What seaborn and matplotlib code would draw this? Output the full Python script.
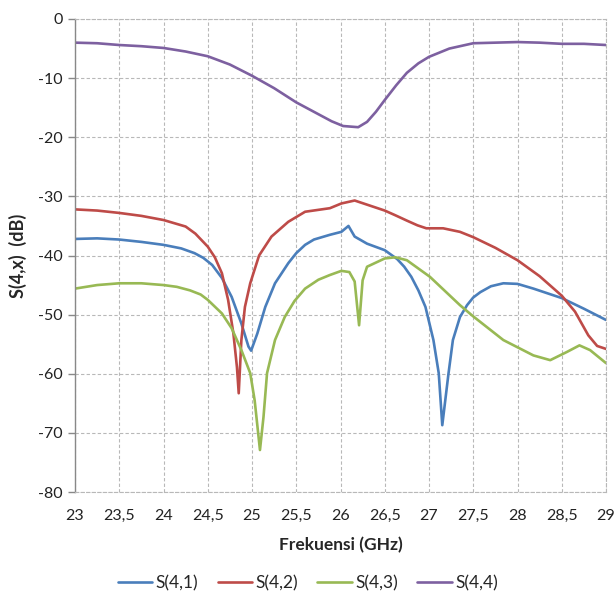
import matplotlib
matplotlib.use("Agg")
import matplotlib.pyplot as plt
import seaborn as sns
import pandas as pd

# S-parameter measurements, port 4 (frequency in GHz, magnitude in dB)
freq_s41 = [23, 23.25, 23.5, 23.75, 24, 24.2, 24.35, 24.45, 24.55, 24.66, 24.77, 24.88, 24.96,
            24.99, 25.06, 25.15, 25.26, 25.41, 25.5, 25.6, 25.7, 25.88, 26.01, 26.09, 26.16,
            26.3, 26.5, 26.64, 26.72, 26.8, 26.88, 26.96, 27.05, 27.11, 27.15, 27.22, 27.27,
            27.35, 27.43, 27.5, 27.58, 27.7, 27.84, 28.0, 28.18, 28.5, 28.75, 29]
s41 = [-37.2, -37.1, -37.3, -37.7, -38.2, -38.8, -39.6, -40.4, -41.6, -43.8, -47.0, -51.5, -55.4,
       -56.1, -53.2, -48.7, -44.7, -41.3, -39.6, -38.2, -37.3, -36.5, -36.0, -35.0, -36.8,
       -38.0, -39.1, -40.6, -41.9, -43.6, -45.9, -48.7, -54.3, -59.9, -68.7, -60.0, -54.3,
       -50.4, -48.4, -47.1, -46.2, -45.2, -44.7, -44.8, -45.6, -47.2, -49.0, -50.9]

freq_s42 = [23, 23.25, 23.5, 23.75, 24, 24.25, 24.36, 24.5, 24.58, 24.66, 24.73, 24.79, 24.83,
            24.85, 24.88, 24.92, 24.98, 25.08, 25.22, 25.41, 25.6, 25.88, 26.01, 26.16, 26.3,
            26.5, 26.62, 26.75, 26.87, 26.97, 27.16, 27.35, 27.5, 27.75, 28.0, 28.25, 28.5,
            28.65, 28.8, 28.9, 29]
s42 = [-32.2, -32.4, -32.8, -33.3, -34.0, -35.1, -36.3, -38.5, -40.3, -43.0, -47.5, -53.2, -58.9,
       -63.3, -54.3, -48.7, -44.7, -40.0, -36.8, -34.3, -32.6, -32.0, -31.2, -30.7, -31.4,
       -32.4, -33.2, -34.1, -34.9, -35.4, -35.4, -36.0, -36.9, -38.7, -40.8, -43.5, -46.8,
       -49.5, -53.5, -55.3, -55.8]

freq_s43 = [23, 23.25, 23.5, 23.75, 24, 24.15, 24.3, 24.42, 24.5, 24.66, 24.77, 24.88, 24.98,
            25.03, 25.09, 25.13, 25.17, 25.26, 25.37, 25.48, 25.6, 25.75, 25.88, 26.01, 26.1,
            26.16, 26.21, 26.25, 26.3, 26.5, 26.62, 26.75, 27.01, 27.35, 27.5, 27.84, 28.18,
            28.37, 28.56, 28.7, 28.82, 29]
s43 = [-45.6, -45.0, -44.7, -44.7, -45.0, -45.3, -45.9, -46.6, -47.5, -49.8, -52.3, -56.0, -59.9,
       -64.5, -72.9, -67.3, -59.9, -54.3, -50.4, -47.7, -45.6, -44.1, -43.3, -42.6, -42.8,
       -44.4, -51.8, -44.2, -41.9, -40.5, -40.3, -40.8, -43.6, -48.4, -50.3, -54.3, -56.9,
       -57.7, -56.3, -55.2, -56.0, -58.2]

freq_s44 = [23, 23.25, 23.5, 23.75, 24, 24.25, 24.5, 24.75, 25, 25.25, 25.5, 25.75, 25.9, 26.03,
            26.2, 26.3, 26.4, 26.5, 26.63, 26.75, 26.88, 27.0, 27.23, 27.5, 27.75, 28, 28.25,
            28.5, 28.75, 29]
s44 = [-4.0, -4.1, -4.4, -4.6, -4.9, -5.5, -6.3, -7.7, -9.6, -11.7, -14.1, -16.1, -17.3, -18.1,
       -18.3, -17.4, -15.7, -13.7, -11.2, -9.1, -7.5, -6.4, -5.0, -4.1, -4.0, -3.9, -4.0,
       -4.2, -4.2, -4.4]

series_names = ["S(4,1)", "S(4,2)", "S(4,3)", "S(4,4)"]
series_colors = ["#4A7EBB", "#BE4B48", "#98B954", "#7D60A0"]
x_ticks = [23, 23.5, 24, 24.5, 25, 25.5, 26, 26.5, 27, 27.5, 28, 28.5, 29]
x_tick_labels = ["23", "23,5", "24", "24,5", "25", "25,5", "26", "26,5", "27", "27,5", "28", "28,5", "29"]
y_ticks = [0, -10, -20, -30, -40, -50, -60, -70, -80]

frames = []
for name, fx, fy in zip(series_names,
                        [freq_s41, freq_s42, freq_s43, freq_s44],
                        [s41, s42, s43, s44]):
    frames.append(pd.DataFrame({"freq": fx, "db": fy, "series": name}))
df = pd.concat(frames, ignore_index=True)

sns.set_theme(style="white")
plt.rcParams["font.family"] = ["Lato", "DejaVu Sans"]
plt.rcParams["axes.unicode_minus"] = False

fig = plt.figure(figsize=(6.16, 6.01), dpi=100)
ax = fig.add_axes([75 / 616, 1 - 492 / 601, (606 - 75) / 616, (492 - 19) / 601])

sns.lineplot(data=df, x="freq", y="db", hue="series", hue_order=series_names,
             palette=series_colors, estimator=None, sort=False, linewidth=1.9, ax=ax,
             legend=True)

ax.set_xlim(23, 29)
ax.set_ylim(-80, 0)
ax.set_xticks(x_ticks)
ax.set_xticklabels(x_tick_labels)
ax.set_yticks(y_ticks)
ax.tick_params(axis="x", length=0, pad=12, labelsize=11.5, colors="#222222")
ax.tick_params(axis="y", length=5, width=1, color="#888888", pad=4, labelsize=11.5,
               labelcolor="#222222", direction="out", left=True)

dash = (0, (3, 2))
ax.grid(True, color="#B8B8B8", linestyle=dash, linewidth=0.8)
ax.set_axisbelow(True)
for side in ["top", "right", "bottom"]:
    ax.spines[side].set_color("#B8B8B8")
    ax.spines[side].set_linestyle(dash)
    ax.spines[side].set_linewidth(0.8)
ax.spines["left"].set_color("#888888")
ax.spines["left"].set_linewidth(1.0)

ax.set_xlabel("Frekuensi (GHz)", fontsize=12.5, fontweight="bold", labelpad=10)
ax.set_ylabel("S(4,x)  (dB)", fontsize=13, fontweight="bold", labelpad=8)

handles, labels = ax.get_legend_handles_labels()
ax.get_legend().remove()
fig.legend(handles, labels, loc="center", bbox_to_anchor=(0.5, 1 - 583 / 601), ncol=4,
           frameon=False, fontsize=12.5, handlelength=2.0, handletextpad=0.2,
           columnspacing=1.1)

fig.savefig("out.png", dpi=100)
